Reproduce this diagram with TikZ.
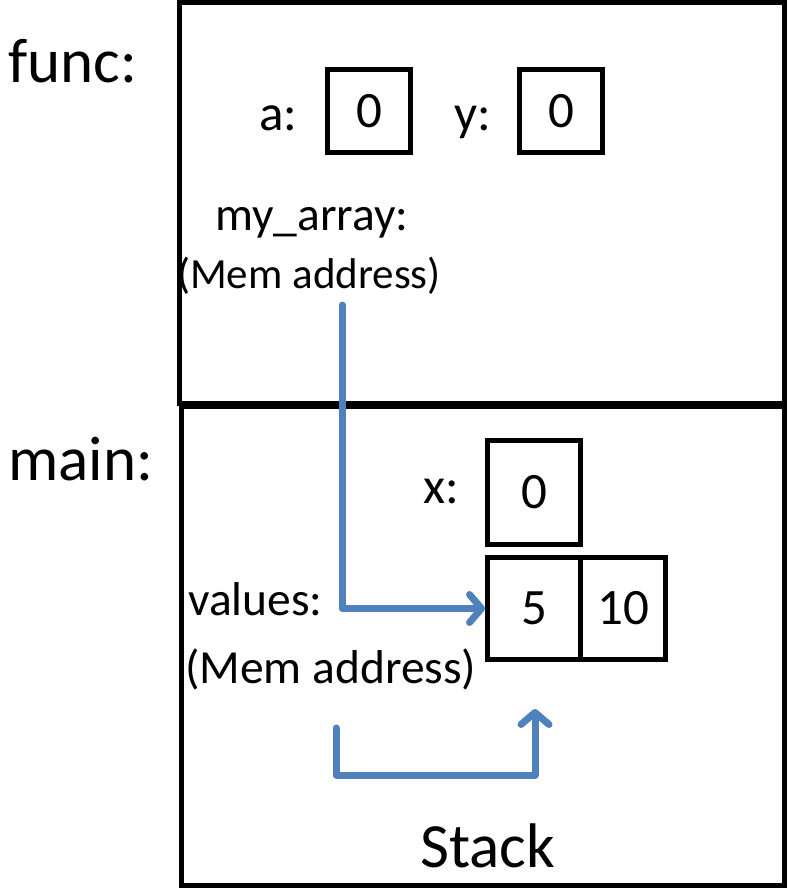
\documentclass[tikz,border=0pt]{standalone}
\usepackage{fontspec}
\setmainfont{Carlito}
\usetikzlibrary{arrows.meta}
\definecolor{ptrblue}{RGB}{79,129,189}
\begin{document}
\begin{tikzpicture}[x=1pt,y=-1pt,
                    frame/.style={line width=5pt},
                    cell/.style={draw,line width=5pt,inner sep=0pt,outer sep=0pt,font=\fontsize{51}{60}\selectfont},
                    big/.style={anchor=base west,inner sep=0pt,font=\fontsize{63}{70}\selectfont},
                    lbl/.style={anchor=base west,inner sep=0pt,font=\fontsize{51}{60}\selectfont},
                    small/.style={anchor=base west,inner sep=0pt,font=\fontsize{47.5}{56}\selectfont},
                    ptr/.style={ptrblue,line width=7pt,line cap=round,line join=round,
                                -{Straight Barb[length=12pt,width=28pt,round]}}]
 \useasboundingbox (0,0) rectangle (789,888);
 % frames
 \draw[frame] (179.5,2.5) rectangle (784.5,403);
 \draw[frame] (181.5,406.5) rectangle (784.5,885.5);
 \node[big] (funcname) at (8,83) {func:};
 \node[big] (mainname) at (8,480) {main:};
 % func
 \node[lbl] (alabel) at (259,130) {a:};
 \node[cell,minimum width=83pt,minimum height=83pt] (acell) at (369,111) {0};
 \node[lbl] (ylabel) at (454,130) {y:};
 \node[cell,minimum width=83pt,minimum height=83pt] (ycell) at (561,111) {0};
 \node[small] (arrname) at (215,230) {my\_array:};
 \node[small,font=\fontsize{43}{50}\selectfont] (arraddr) at (177,288) {(Mem address)};
 % main
 \node[lbl] (xlabel) at (423,503) {x:};
 \node[cell,minimum width=93pt,minimum height=104pt] (xcell) at (534,492.5) {0};
 \node[cell,minimum width=93pt,minimum height=102pt] (five) at (534,608.5) {5};
 \node[cell,minimum width=85pt,minimum height=102pt,anchor=west] (ten) at (five.east) {10};
 \node[small] (valname) at (188,615) {values:};
 \node[small] (valaddr) at (185,683) {(Mem address)};
 \node[big] (stack) at (420,867) {Stack};
 % pointers
 \coordinate (arrfrom) at (342,305);
 \draw[ptr,shorten >=2.5pt] (arrfrom) |- (five.west);
 \coordinate (retfrom) at (336,728);
 \coordinate (retturn) at (336,775);
 \coordinate (retto) at (535,709);
 \draw[ptr] (retfrom) -- (retturn) -| (retto);
\end{tikzpicture}
\end{document}
